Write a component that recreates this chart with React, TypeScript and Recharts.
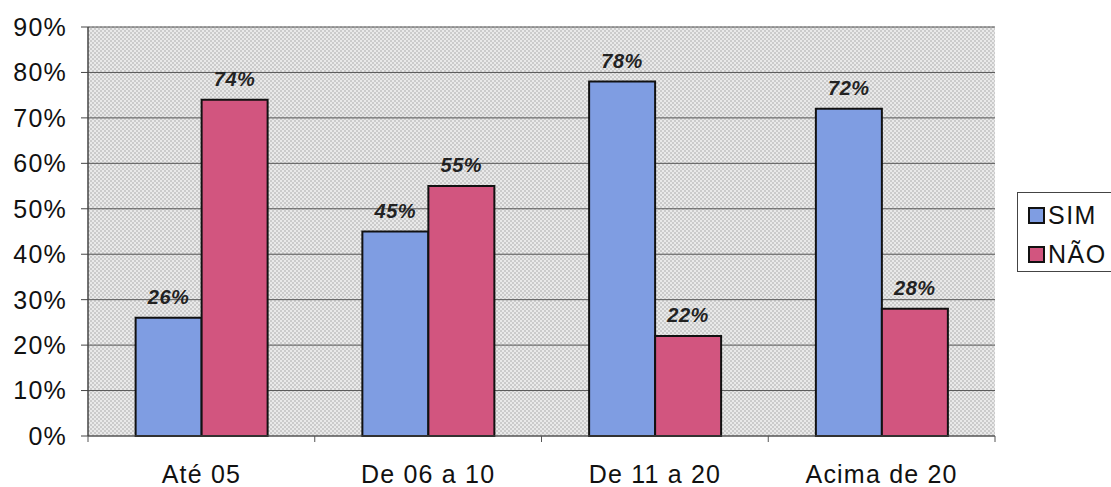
import React from 'react';
import {
  BarChart,
  Bar,
  XAxis,
  YAxis,
  CartesianGrid,
  Legend,
  LabelList,
  ReferenceLine,
} from 'recharts';

const categories = ['Até 05', 'De 06 a 10', 'De 11 a 20', 'Acima de 20'];
const simValues = [26, 45, 78, 72];
const naoValues = [74, 55, 22, 28];
const yTicks = [0, 10, 20, 30, 40, 50, 60, 70, 80, 90];
const seriesNames = ['SIM', 'NÃO'];
const seriesColors = ['#7f9de2', '#d2557f'];

const data = categories.map((name, i) => ({
  name,
  sim: simValues[i],
  nao: naoValues[i],
}));

const FONT = '"Liberation Sans", Arial, sans-serif';

const LegendBox = () => (
  <div
    style={{
      width: 100,
      height: 80,
      border: '1px solid #444',
      background: '#fff',
      boxSizing: 'border-box',
      fontFamily: FONT,
      fontSize: 25,
      letterSpacing: 1.5,
      color: '#111',
      paddingTop: 0,
      paddingLeft: 10,
    }}
  >
    {seriesNames.map((n, i) => (
      <div key={n} style={{ display: 'flex', alignItems: 'center', height: 44, marginTop: i === 0 ? 0 : -5 }}>
        <span
          style={{
            display: 'inline-block',
            width: 13,
            height: 13,
            background: seriesColors[i],
            border: '2px solid #111',
            marginRight: 3,
            flex: 'none',
          }}
        />
        <span>{n}</span>
      </div>
    ))}
  </div>
);

const pctLabel = (v: number) => `${v}%`;

const axisText = { fontSize: 25, fill: '#111', fontFamily: FONT, letterSpacing: 1.2 };
const valueText = {
  fontSize: 20,
  fontWeight: 'bold',
  fontStyle: 'italic',
  fill: '#222',
  fontFamily: FONT,
  letterSpacing: 0.5,
};

// Category label plus short tick marks at the band edges (band half-width comes from the axis scale)
const CategoryTick = (props: any) => {
  const { x, y, payload, index } = props;
  const half = payload && typeof payload.offset === 'number' ? payload.offset : 0;
  const last = index === categories.length - 1;
  return (
    <g>
      {half > 0 && <line x1={x - half} x2={x - half} y1={y} y2={y + 6} stroke="#555" strokeWidth={1} />}
      {half > 0 && last && (
        <line x1={x + half} x2={x + half} y1={y} y2={y + 6} stroke="#555" strokeWidth={1} />
      )}
      <text x={x} y={y} dy={47} textAnchor="middle" {...axisText}>
        {payload.value}
      </text>
    </g>
  );
};

export default function App() {
  return (
    <div style={{ position: 'absolute', left: 0, top: 0, width: 1111, height: 487, background: '#fff' }}>
      <BarChart
        width={1111}
        height={487}
        data={data}
        margin={{ top: 27, right: 116, bottom: 50, left: 0 }}
        barCategoryGap="21%"
        barGap={0}
      >
        <defs>
          <pattern id="dots" width="4" height="4" patternUnits="userSpaceOnUse">
            <rect width="4" height="4" fill="#cbcbcb" />
            <circle cx="1" cy="1" r="1" fill="#f3f3f3" />
            <circle cx="3" cy="3" r="1" fill="#f3f3f3" />
          </pattern>
        </defs>
        <CartesianGrid
          vertical={false}
          horizontal
          fill="url(#dots)"
          fillOpacity={1}
          stroke="#555"
          strokeWidth={1}
        />
        <XAxis
          dataKey="name"
          height={1}
          axisLine={{ stroke: '#555', strokeWidth: 1.2 }}
          tickLine={false}
          tickSize={0}
          tickMargin={0}
          tick={<CategoryTick />}
          interval={0}
        />
        <YAxis
          domain={[0, 90]}
          ticks={yTicks}
          width={88}
          tickFormatter={pctLabel}
          axisLine={{ stroke: '#444', strokeWidth: 1.5 }}
          tickLine={{ stroke: '#444' }}
          tickSize={7}
          tickMargin={14}
          tick={axisText}
          interval={0}
        />
        <YAxis
          yAxisId="right"
          orientation="right"
          width={0}
          domain={[0, 90]}
          tick={false}
          tickLine={false}
          axisLine={{ stroke: '#888', strokeDasharray: '2 2' }}
        />
        <ReferenceLine y={90} stroke="#888" strokeDasharray="2 2" />
        <Bar
          dataKey="sim"
          name={seriesNames[0]}
          fill={seriesColors[0]}
          stroke="#111"
          strokeWidth={2}
          isAnimationActive={false}
        >
          <LabelList dataKey="sim" position="top" offset={14} formatter={pctLabel} style={valueText} />
        </Bar>
        <Bar
          dataKey="nao"
          name={seriesNames[1]}
          fill={seriesColors[1]}
          stroke="#111"
          strokeWidth={2}
          isAnimationActive={false}
        >
          <LabelList dataKey="nao" position="top" offset={14} formatter={pctLabel} style={valueText} />
        </Bar>
        <Legend
          layout="horizontal"
          verticalAlign="middle"
          align="center"
          content={() => <LegendBox />}
          wrapperStyle={{ left: 1017, top: 192, width: 100, height: 80 }}
        />
      </BarChart>
    </div>
  );
}
